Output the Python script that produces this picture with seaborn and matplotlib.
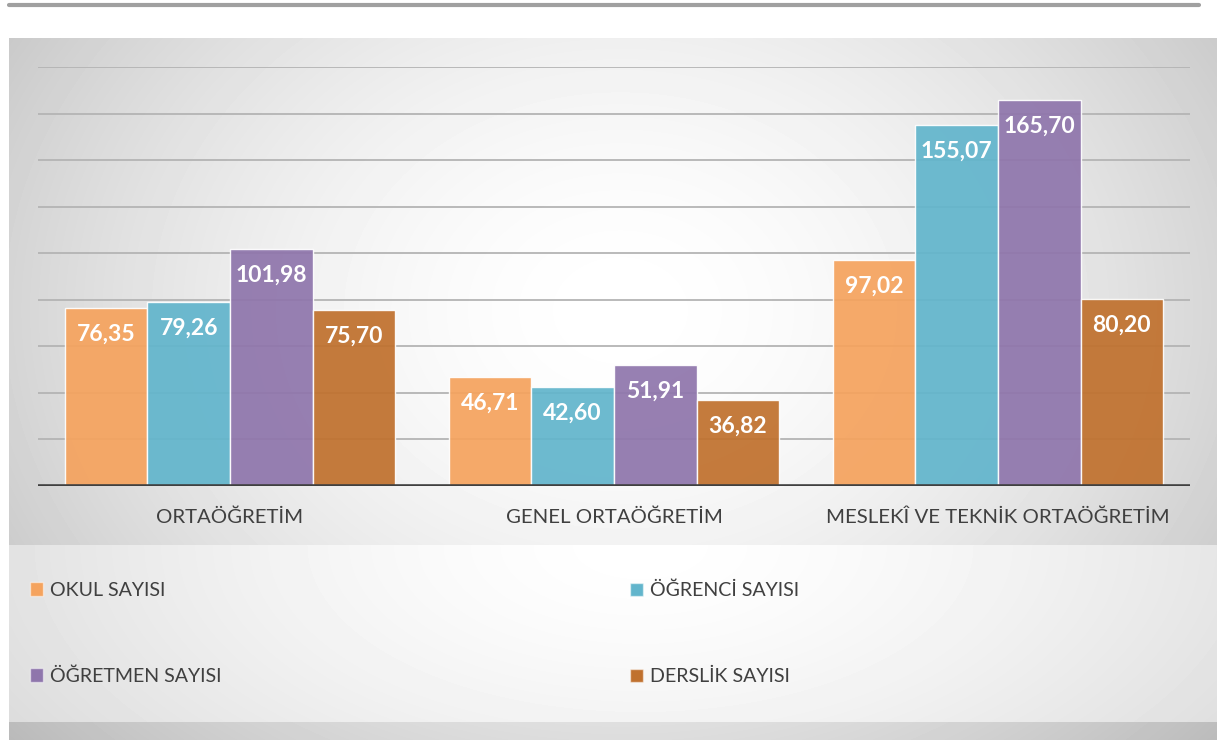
import numpy as np
import pandas as pd
import matplotlib
matplotlib.use("Agg")
import matplotlib.pyplot as plt
from matplotlib.patches import Patch
from matplotlib.lines import Line2D
import seaborn as sns

# ==========================================
# Data
# ==========================================
kategoriler = ["ORTAÖĞRETİM", "GENEL ORTAÖĞRETİM", "MESLEKÎ VE TEKNİK ORTAÖĞRETİM"]
seriler = ["OKUL SAYISI", "ÖĞRENCİ SAYISI", "ÖĞRETMEN SAYISI", "DERSLİK SAYISI"]
okul = [76.35, 46.71, 97.02]
ogrenci = [79.26, 42.60, 155.07]
ogretmen = [101.98, 51.91, 165.70]
derslik = [75.70, 36.82, 80.20]

renkler = ["#F5A35E", "#62B5CC", "#8F76AC", "#C0712E"]

rows = []
for seri, vals in zip(seriler, [okul, ogrenci, ogretmen, derslik]):
    for kat, v in zip(kategoriler, vals):
        rows.append({"kategori": kat, "seri": seri, "deger": v})
df = pd.DataFrame(rows)

sns.set_style("white")
plt.rcParams["font.family"] = ["Lato", "DejaVu Sans"]

W, H = 1217, 740
fig = plt.figure(figsize=(W / 100, H / 100), dpi=100, facecolor="white")

# --- background gradients ---
bg = fig.add_axes([9 / W, 0, 1 - 9 / W, (H - 38) / H], zorder=0)
yy, xx = np.mgrid[38:740, 9:1217]
r = np.sqrt(((xx - 620) / 760) ** 2 + ((yy - 310) / 600) ** 2)
g = 1 - 0.24 * np.clip(r, 0, 1.3) ** 1.7
bg.imshow(g, cmap="gray", vmin=0, vmax=1, aspect="auto", interpolation="bilinear")
bg.axis("off")

lg = fig.add_axes([9 / W, (H - 722) / H, 1 - 9 / W, (722 - 545) / H], zorder=0.5)
yy2, xx2 = np.mgrid[545:722, 9:1217]
r2 = np.sqrt(((xx2 - 640) / 800) ** 2 + ((yy2 - 545) / 400) ** 2)
g2 = 1 - 0.16 * np.clip(r2, 0, 1.3) ** 1.5
lg.imshow(g2, cmap="gray", vmin=0, vmax=1, aspect="auto", interpolation="bilinear")
lg.axis("off")

# top rule
fig.add_artist(Line2D([9 / W, 1199 / W], [(H - 5) / H] * 2, color="#a0a0a0", lw=3))

# --- main chart ---
ax = fig.add_axes([38 / W, (H - 486) / H, (1190 - 38) / W, (486 - 67) / H], zorder=2)
ax.patch.set_alpha(0)
sns.barplot(data=df, x="kategori", y="deger", hue="seri", order=kategoriler,
            hue_order=seriler, palette=renkler, width=0.86, saturation=1,
            alpha=0.93, edgecolor=(1, 1, 1, 0.5), linewidth=1, legend=False, ax=ax)

ax.set_ylim(0, 180)
ax.set_xlim(-0.5, 2.5)
ax.set_yticks(range(0, 181, 20))
ax.yaxis.grid(True, color="#b4b4b4", lw=1.3)
ax.set_axisbelow(True)
for s in ax.spines.values():
    s.set_visible(False)
ax.axhline(0, color="#404040", lw=2.6, zorder=4)
ax.tick_params(axis="y", left=False, labelleft=False)
ax.tick_params(axis="x", length=0, pad=16, labelsize=14.7, labelcolor="#404040")
ax.set_xlabel("")
ax.set_ylabel("")

for cont, vals in zip(ax.containers, [okul, ogrenci, ogretmen, derslik]):
    for bar, v in zip(cont, vals):
        ax.annotate(f"{v:.2f}".replace(".", ","),
                    (bar.get_x() + bar.get_width() / 2, bar.get_height()),
                    xytext=(0, -19), textcoords="offset points",
                    ha="center", va="center", color="white",
                    fontsize=16.5, fontweight="bold", zorder=5)

# --- legend ---
handles = [Patch(facecolor=c, edgecolor=(1, 1, 1, 0.5), lw=1) for c in renkler]
for i, x0 in enumerate([30, 630]):
    leg = fig.legend([handles[i], handles[i + 2]], [seriler[i], seriler[i + 2]],
                     loc="upper left", bbox_to_anchor=(x0 / W, (H - 582) / H),
                     frameon=False, fontsize=14.1, labelcolor="#404040",
                     handlelength=0.68, handleheight=0.68, handletextpad=0.35,
                     labelspacing=3.5, borderpad=0, borderaxespad=0)
    leg.set_zorder(3)

fig.savefig("out.png", dpi=100, facecolor="white")
